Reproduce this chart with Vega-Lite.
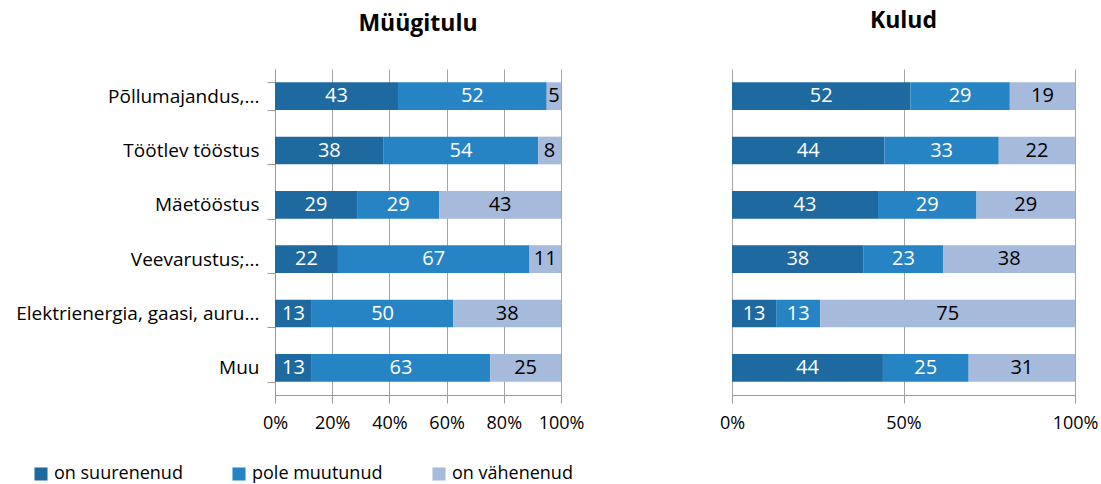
{
  "$schema": "https://vega.github.io/schema/vega-lite/v6.json",
  "padding": {"left": 15, "top": 10, "right": 3, "bottom": 3},
  "background": "white",
  "config": {
    "font": "Open Sans",
    "view": {"stroke": null},
    "concat": {"spacing": 135},
    "legend": {
      "orient": "none", "legendX": -243, "legendY": 396, "direction": "horizontal",
      "symbolType": "square", "symbolSize": 170, "symbolStrokeWidth": 0,
      "labelFontSize": 18, "labelColor": "black", "columnPadding": 47, "labelOffset": 4
    }
  },
  "data": {"values": [
    {"panel": "Müügitulu", "cat": "Põllumajandus,...", "series": "on suurenenud", "k": 1, "value": 43},
    {"panel": "Müügitulu", "cat": "Põllumajandus,...", "series": "pole muutunud", "k": 2, "value": 52},
    {"panel": "Müügitulu", "cat": "Põllumajandus,...", "series": "on vähenenud", "k": 3, "value": 5},
    {"panel": "Müügitulu", "cat": "Töötlev tööstus", "series": "on suurenenud", "k": 1, "value": 38},
    {"panel": "Müügitulu", "cat": "Töötlev tööstus", "series": "pole muutunud", "k": 2, "value": 54},
    {"panel": "Müügitulu", "cat": "Töötlev tööstus", "series": "on vähenenud", "k": 3, "value": 8},
    {"panel": "Müügitulu", "cat": "Mäetööstus", "series": "on suurenenud", "k": 1, "value": 29},
    {"panel": "Müügitulu", "cat": "Mäetööstus", "series": "pole muutunud", "k": 2, "value": 29},
    {"panel": "Müügitulu", "cat": "Mäetööstus", "series": "on vähenenud", "k": 3, "value": 43},
    {"panel": "Müügitulu", "cat": "Veevarustus;...", "series": "on suurenenud", "k": 1, "value": 22},
    {"panel": "Müügitulu", "cat": "Veevarustus;...", "series": "pole muutunud", "k": 2, "value": 67},
    {"panel": "Müügitulu", "cat": "Veevarustus;...", "series": "on vähenenud", "k": 3, "value": 11},
    {"panel": "Müügitulu", "cat": "Elektrienergia, gaasi, auru...", "series": "on suurenenud", "k": 1, "value": 13},
    {"panel": "Müügitulu", "cat": "Elektrienergia, gaasi, auru...", "series": "pole muutunud", "k": 2, "value": 50},
    {"panel": "Müügitulu", "cat": "Elektrienergia, gaasi, auru...", "series": "on vähenenud", "k": 3, "value": 38},
    {"panel": "Müügitulu", "cat": "Muu", "series": "on suurenenud", "k": 1, "value": 13},
    {"panel": "Müügitulu", "cat": "Muu", "series": "pole muutunud", "k": 2, "value": 63},
    {"panel": "Müügitulu", "cat": "Muu", "series": "on vähenenud", "k": 3, "value": 25},
    {"panel": "Kulud", "cat": "Põllumajandus,...", "series": "on suurenenud", "k": 1, "value": 52},
    {"panel": "Kulud", "cat": "Põllumajandus,...", "series": "pole muutunud", "k": 2, "value": 29},
    {"panel": "Kulud", "cat": "Põllumajandus,...", "series": "on vähenenud", "k": 3, "value": 19},
    {"panel": "Kulud", "cat": "Töötlev tööstus", "series": "on suurenenud", "k": 1, "value": 44},
    {"panel": "Kulud", "cat": "Töötlev tööstus", "series": "pole muutunud", "k": 2, "value": 33},
    {"panel": "Kulud", "cat": "Töötlev tööstus", "series": "on vähenenud", "k": 3, "value": 22},
    {"panel": "Kulud", "cat": "Mäetööstus", "series": "on suurenenud", "k": 1, "value": 43},
    {"panel": "Kulud", "cat": "Mäetööstus", "series": "pole muutunud", "k": 2, "value": 29},
    {"panel": "Kulud", "cat": "Mäetööstus", "series": "on vähenenud", "k": 3, "value": 29},
    {"panel": "Kulud", "cat": "Veevarustus;...", "series": "on suurenenud", "k": 1, "value": 38},
    {"panel": "Kulud", "cat": "Veevarustus;...", "series": "pole muutunud", "k": 2, "value": 23},
    {"panel": "Kulud", "cat": "Veevarustus;...", "series": "on vähenenud", "k": 3, "value": 38},
    {"panel": "Kulud", "cat": "Elektrienergia, gaasi, auru...", "series": "on suurenenud", "k": 1, "value": 13},
    {"panel": "Kulud", "cat": "Elektrienergia, gaasi, auru...", "series": "pole muutunud", "k": 2, "value": 13},
    {"panel": "Kulud", "cat": "Elektrienergia, gaasi, auru...", "series": "on vähenenud", "k": 3, "value": 75},
    {"panel": "Kulud", "cat": "Muu", "series": "on suurenenud", "k": 1, "value": 44},
    {"panel": "Kulud", "cat": "Muu", "series": "pole muutunud", "k": 2, "value": 25},
    {"panel": "Kulud", "cat": "Muu", "series": "on vähenenud", "k": 3, "value": 31}
  ]},
  "hconcat": [
    {
      "width": 286, "height": 326,
      "title": {"text": "Müügitulu", "fontSize": 23, "fontWeight": "bold", "offset": 24, "frame": "group", "color": "black"},
      "transform": [
        {"filter": "datum.panel == 'Müügitulu'"},
        {"stack": "value", "groupby": ["cat"], "sort": [{"field": "k"}], "offset": "normalize", "as": ["v0", "v1"]},
        {"calculate": "(datum.v0 + datum.v1) / 2", "as": "mid"}
      ],
      "encoding": {
        "y": {
          "field": "cat", "type": "nominal",
          "sort": ["Põllumajandus,...", "Töötlev tööstus", "Mäetööstus", "Veevarustus;...", "Elektrienergia, gaasi, auru...", "Muu"],
          "scale": {"paddingInner": 0.49, "paddingOuter": 0.245},
          "axis": {"title": null, "labelFontSize": 19, "labelColor": "black", "labelPadding": 8, "labelLimit": 320,
                   "tickBand": "extent", "tickSize": 8, "tickColor": "#999999", "domainColor": "#999999", "grid": false}
        }
      },
      "layer": [
        {
          "mark": {"type": "bar"},
          "encoding": {
            "x": {"field": "v0", "type": "quantitative", "scale": {"domain": [0, 1]},
                  "axis": {"title": null, "format": ".0%", "values": [0, 0.2, 0.4, 0.6, 0.8, 1], "grid": true, "gridColor": "#a6a6a6",
                           "tickSize": 8, "tickColor": "#999999", "domainColor": "#999999", "labelFontSize": 18, "labelColor": "black",
                           "labelPadding": 11, "labelFlush": false}},
            "x2": {"field": "v1"},
            "color": {"field": "series", "type": "nominal", "title": null,
                      "scale": {"domain": ["on suurenenud", "pole muutunud", "on vähenenud"], "range": ["#1e69a0", "#2684c4", "#a6badc"]}}
          }
        },
        {
          "mark": {"type": "text", "fontSize": 20},
          "encoding": {
            "x": {"field": "mid", "type": "quantitative"},
            "text": {"field": "value", "type": "quantitative"},
            "color": {"condition": {"test": "datum.k < 3", "value": "white"}, "value": "black"}
          }
        }
      ]
    },
    {
      "width": 343, "height": 326,
      "title": {"text": "Kulud", "fontSize": 23, "fontWeight": "bold", "offset": 36, "frame": "group", "color": "black"},
      "transform": [
        {"filter": "datum.panel == 'Kulud'"},
        {"stack": "value", "groupby": ["cat"], "sort": [{"field": "k"}], "offset": "normalize", "as": ["v0", "v1"]},
        {"calculate": "(datum.v0 + datum.v1) / 2", "as": "mid"}
      ],
      "encoding": {
        "y": {
          "field": "cat", "type": "nominal",
          "sort": ["Põllumajandus,...", "Töötlev tööstus", "Mäetööstus", "Veevarustus;...", "Elektrienergia, gaasi, auru...", "Muu"],
          "scale": {"paddingInner": 0.49, "paddingOuter": 0.245},
          "axis": {"title": null, "labels": false, "ticks": false, "domain": false, "grid": false}
        }
      },
      "layer": [
        {
          "mark": {"type": "bar"},
          "encoding": {
            "x": {"field": "v0", "type": "quantitative", "scale": {"domain": [0, 1]},
                  "axis": {"title": null, "format": ".0%", "values": [0, 0.5, 1], "grid": true, "gridColor": "#a6a6a6",
                           "tickSize": 8, "tickColor": "#999999", "domainColor": "#999999", "labelFontSize": 18, "labelColor": "black",
                           "labelPadding": 11, "labelFlush": false}},
            "x2": {"field": "v1"},
            "color": {"field": "series", "type": "nominal", "title": null,
                      "scale": {"domain": ["on suurenenud", "pole muutunud", "on vähenenud"], "range": ["#1e69a0", "#2684c4", "#a6badc"]}}
          }
        },
        {
          "mark": {"type": "text", "fontSize": 20},
          "encoding": {
            "x": {"field": "mid", "type": "quantitative"},
            "text": {"field": "value", "type": "quantitative"},
            "color": {"condition": {"test": "datum.k < 3", "value": "white"}, "value": "black"}
          }
        }
      ]
    }
  ]
}
